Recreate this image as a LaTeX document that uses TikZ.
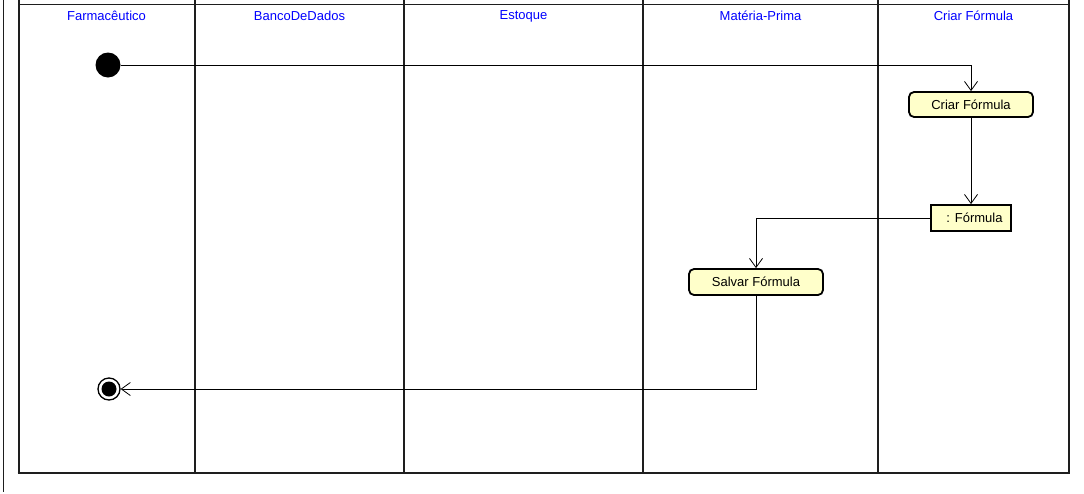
\documentclass[tikz,border=0pt]{standalone}
\usepackage{fontspec}
\setmainfont{Liberation Sans}
\usetikzlibrary{arrows.meta}
\definecolor{actfill}{RGB}{255,255,202}
\definecolor{lanecol}{RGB}{30,30,30}
\definecolor{headblue}{RGB}{0,0,255}
\begin{document}
\begin{tikzpicture}[x=1pt,y=-1pt,
  font=\fontsize{13}{15}\selectfont,
  laneline/.style={draw=lanecol,line width=2pt},
  thinline/.style={draw=lanecol,line width=1pt},
  lanehead/.style={text=headblue,inner sep=0pt},
  action/.style={draw=black,line width=1.8pt,fill=actfill,rounded corners=5pt,inner sep=0pt},
  objnode/.style={draw=black,line width=1.8pt,fill=actfill,inner sep=0pt},
  startnode/.style={circle,fill=black,minimum size=25pt,inner sep=0pt},
  endnode/.style={circle,draw=black,line width=1.3pt,fill=white,minimum size=22pt,inner sep=0pt,
    path picture={\fill[black] (path picture bounding box.center) circle (7.5pt);}},
  flow/.style={draw=black,line width=0.8pt,-{Straight Barb[length=9pt,width=13pt,line width=0.8pt]}}
]
\useasboundingbox (0,0) rectangle (1084,493);
% outer lines
\draw[thinline] (3,0) -- (3,492);
\draw[thinline] (18,4.5) -- (1069,4.5);
% lanes
\foreach \x in {18.5,195,404,643,878,1069}{\draw[laneline] (\x,0) -- (\x,473);}
\draw[laneline] (17.5,473) -- (1070,473);
% lane headers
\node[lanehead] (h1) at (106.5,16) {Farmacêutico};
\node[lanehead] (h2) at (299.5,16) {BancoDeDados};
\node[lanehead] (h3) at (523.5,16) {Estoque};
\node[lanehead] (h4) at (760.5,16) {Matéria-Prima};
\node[lanehead] (h5) at (973.5,16) {Criar Fórmula};
% nodes
\node[startnode] (init) at (108,65) {};
\node[action,minimum width=124pt,minimum height=25pt] (criar) at (971,104.5) {Criar Fórmula};
\node[objnode,minimum width=80pt,minimum height=26pt] (obj) at (971,218) {\hspace*{7pt}: Fórmula};
\node[action,minimum width=134pt,minimum height=26pt] (salvar) at (756,282) {Salvar Fórmula};
\node[endnode] (fin) at (109,389) {};
% flows
\draw[flow] (init.east) -| (criar.north);
\draw[flow] (criar.south) -- (obj.north);
\draw[flow] (obj.west) -| (salvar.north);
\draw[flow] (salvar.south) |- (fin.east);
\end{tikzpicture}
\end{document}
